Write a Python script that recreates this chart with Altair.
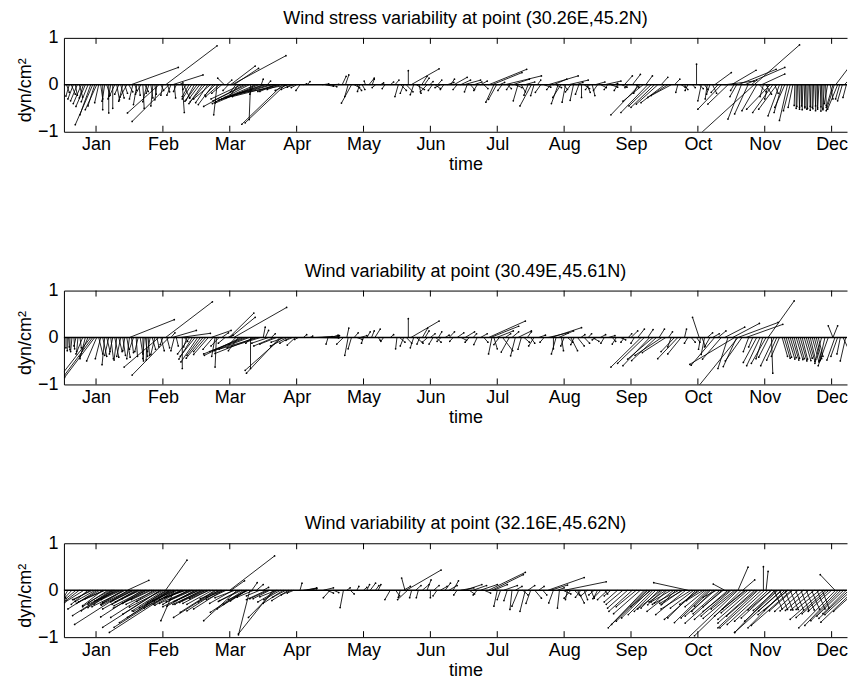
import json
import altair as alt
import pandas as pd

# ---------------- data ----------------
MONTHS = ["Jan", "Feb", "Mar", "Apr", "May", "Jun",
          "Jul", "Aug", "Sep", "Oct", "Nov", "Dec"]
MONTH_TICKS = [1, 2, 3, 4, 5, 6, 7, 8, 9, 10, 11, 12]
Y_TICKS = [-1, 0, 1]
TITLES = ["Wind stress variability at point (30.26E,45.2N)",
          "Wind variability at point (30.49E,45.61N)",
          "Wind variability at point (32.16E,45.62N)"]
X_TITLE = "time"
Y_TITLE = "dyn/cm\u00b2"

# panel 1: stick base time (month units), u (horizontal extent), v
t1 = [0.56,0.60,0.63,0.66,0.69,0.72,0.75,0.78,0.81,0.84,
      0.88,0.92,0.95,0.98,1.01,1.04,1.07,1.10,1.13,1.16,
      1.19,1.22,1.25,1.28,1.31,1.34,1.37,1.40,1.43,1.46,
      1.49,1.52,1.55,1.58,1.61,1.64,1.67,1.70,1.73,1.76,
      1.79,1.82,1.85,1.88,1.91,1.94,1.97,2.00,2.04,2.07,
      2.09,2.12,2.14,2.17,2.20,2.24,2.29,2.31,2.35,2.39,
      2.43,2.47,2.51,2.55,2.59,2.63,2.67,2.71,2.75,2.78,
      2.81,2.84,2.88,2.92,2.95,2.98,3.01,3.03,3.06,3.09,
      3.13,3.17,3.21,3.25,3.29,3.31,3.35,3.39,3.43,3.47,
      3.50,3.53,3.56,3.59,3.63,3.67,3.70,3.73,3.76,3.79,
      3.83,3.86,3.88,3.92,3.96,4.00,4.05,4.10,4.16,4.38,
      4.43,4.48,4.52,4.68,4.73,4.77,4.82,4.86,4.90,4.94,
      4.98,5.03,5.08,5.13,5.18,5.25,5.32,5.40,5.47,5.52,
      5.56,5.60,5.64,5.67,5.71,5.75,5.79,5.83,5.87,5.91,
      5.95,5.99,6.03,6.07,6.11,6.15,6.20,6.25,6.30,6.35,
      6.40,6.45,6.50,6.55,6.60,6.65,6.70,6.75,6.80,6.87,
      6.92,6.95,6.99,7.03,7.07,7.11,7.15,7.19,7.23,7.27,
      7.31,7.36,7.41,7.46,7.51,7.55,7.60,7.65,7.70,7.76,
      7.80,7.84,7.88,7.91,7.95,7.99,8.02,8.06,8.10,8.14,
      8.18,8.22,8.26,8.30,8.34,8.38,8.42,8.46,8.50,8.55,
      8.60,8.65,8.70,8.75,8.80,8.86,8.90,8.95,9.02,9.07,
      9.10,9.13,9.18,9.22,9.25,9.30,9.35,9.40,9.45,9.50,
      9.55,9.60,9.65,9.70,9.75,9.80,9.85,9.92,9.98,10.02,
      10.05,10.10,10.14,10.18,10.22,10.25,10.30,10.35,10.40,10.45,
      10.50,10.54,10.58,10.60,10.65,10.70,10.75,10.80,10.84,10.84,
      10.88,10.92,10.95,10.98,11.02,11.05,11.08,11.12,11.15,11.18,
      11.22,11.26,11.30,11.34,11.38,11.42,11.45,11.47,11.49,11.51,
      11.53,11.55,11.57,11.59,11.61,11.63,11.65,11.67,11.69,11.71,
      11.73,11.75,11.77,11.79,11.81,11.83,11.85,11.87,11.89,11.91,
      11.94,11.98,12.02,12.04,12.06,12.09,12.12,12.16,12.19,12.22]
u1 = [0.04,-0.05,0.06,-0.08,0.03,-0.10,0.05,-0.12,-0.06,-0.14,
      -0.10,-0.16,-0.26,-0.10,-0.17,-0.06,0.03,0.00,-0.04,0.05,
      0.00,-0.04,0.00,-0.08,0.04,-0.06,0.05,-0.06,0.04,-0.10,
      0.06,0.71,-0.05,0.03,-0.05,0.02,-0.08,0.02,0.05,-0.06,
      -0.04,0.03,-0.03,0.02,-0.03,-0.47,0.04,-0.03,0.77,0.03,
      -0.55,-0.06,0.46,0.02,-0.04,0.06,0.03,0.09,-0.05,-0.10,
      -0.14,-0.12,-0.18,-0.15,-0.20,-0.22,-0.18,-0.25,-0.22,-0.15,
      -0.05,-0.20,-0.15,-0.10,0.08,-0.08,0.37,0.81,0.37,-0.08,
      -0.12,-0.45,-0.60,-0.50,-0.55,-0.02,-0.05,-0.60,-0.65,0.03,
      -0.62,-0.69,0.05,-0.66,-0.69,-0.25,-0.25,-0.69,-0.20,-0.61,
      -0.60,-0.18,-0.74,-0.15,-0.10,-0.08,-0.06,0.05,0.04,0.10,
      0.12,0.15,0.08,0.06,0.05,-0.05,-0.15,0.08,0.07,-0.03,
      0.04,-0.02,0.08,0.03,-0.05,0.05,-0.04,0.05,0.06,-0.05,
      0.08,-0.05,0.10,0.00,0.42,-0.05,0.12,0.03,0.08,0.07,
      -0.10,0.05,-0.06,0.08,0.06,-0.08,-0.05,0.10,0.06,0.20,
      -0.06,0.15,0.25,-0.04,0.06,0.12,-0.05,0.10,0.06,0.57,
      0.45,-0.12,-0.12,0.08,-0.06,0.55,0.06,-0.05,0.25,0.10,
      -0.07,0.06,0.15,-0.06,-0.17,-0.05,0.05,-0.08,0.10,0.45,
      -0.06,0.20,0.08,-0.10,-0.12,0.06,-0.05,0.30,-0.08,-0.05,
      0.10,-0.05,0.00,0.08,0.05,-0.06,0.04,0.15,-0.06,0.08,
      0.25,-0.05,0.10,0.05,-0.05,0.08,0.12,-0.04,0.12,0.05,
      -0.06,-0.43,-0.30,0.10,-0.40,-0.33,-0.35,-0.32,0.10,-0.35,
      -0.30,-0.30,0.08,-0.03,0.06,0.05,-0.04,0.04,0.00,0.06,
      -0.05,0.05,-0.03,-0.05,0.06,0.25,-0.10,-0.35,0.44,-0.30,
      0.37,-0.05,-0.10,0.57,-0.20,0.60,-0.20,0.08,-0.81,0.68,
      -0.22,0.10,0.35,-0.05,0.08,-0.05,-0.35,-0.30,0.05,-0.27,
      -0.17,-0.12,-0.15,-0.12,-0.10,-0.07,-0.01,0.00,-0.01,0.01,
      -0.01,0.00,-0.01,0.01,-0.01,0.00,-0.01,0.01,-0.01,0.00,
      -0.01,0.01,-0.01,0.00,-0.02,0.01,-0.01,0.00,-0.02,0.01,
      -0.05,0.04,-0.10,-0.12,0.25,-0.15,-0.06,-0.07,0.10,-0.05]
v1 = [-0.16,-0.24,-0.20,-0.30,-0.22,-0.34,-0.26,-0.40,-0.28,-0.46,
      -0.36,-0.64,-0.85,-0.45,-0.53,-0.38,-0.30,-0.53,-0.35,-0.22,
      -0.60,-0.30,-0.50,-0.24,-0.32,-0.20,-0.28,-0.35,-0.18,-0.26,
      -0.15,0.37,-0.30,-0.12,-0.42,-0.22,-0.20,-0.50,-0.14,-0.36,
      -0.18,-0.28,-0.45,-0.20,-0.32,-0.60,-0.12,-0.22,0.83,-0.15,
      -0.78,-0.22,0.21,-0.28,-0.14,0.04,-0.59,-0.28,-0.10,-0.25,
      -0.30,-0.32,-0.35,-0.28,-0.40,-0.36,-0.38,-0.30,-0.42,-0.22,
      -0.64,-0.25,-0.18,0.14,0.10,-0.12,0.40,0.62,0.35,-0.15,
      -0.22,-0.30,-0.46,-0.34,-0.40,-0.74,-0.20,-0.36,-0.39,0.12,
      -0.30,-0.32,0.08,-0.27,-0.28,-0.14,-0.14,-0.25,-0.10,-0.84,
      -0.81,-0.12,-0.18,-0.10,-0.05,-0.06,-0.12,0.02,0.07,0.02,
      -0.03,0.01,-0.04,0.18,0.21,-0.25,-0.39,-0.06,-0.12,-0.14,
      -0.10,0.08,0.14,0.12,-0.06,0.04,-0.08,0.06,0.10,-0.25,
      -0.12,-0.18,-0.15,0.30,0.34,-0.21,-0.10,-0.18,0.18,0.14,
      -0.15,0.07,-0.12,-0.08,0.10,-0.06,-0.10,0.05,0.12,0.16,
      -0.10,0.10,0.10,-0.15,-0.10,0.06,-0.12,0.08,-0.08,0.33,
      0.26,-0.37,-0.31,0.05,-0.12,0.19,-0.08,-0.10,0.12,-0.06,
      -0.34,-0.15,0.06,-0.22,-0.45,-0.23,0.10,-0.16,-0.05,0.19,
      -0.10,0.12,-0.06,-0.40,-0.27,-0.10,-0.37,0.10,-0.15,-0.33,
      0.05,-0.20,-0.27,-0.08,-0.16,-0.10,-0.23,0.06,-0.12,-0.06,
      0.08,-0.10,-0.05,0.03,-0.12,-0.05,0.19,-0.06,0.22,-0.05,
      -0.18,-0.64,-0.35,0.19,-0.59,-0.45,-0.48,-0.41,0.16,-0.38,
      -0.27,-0.23,0.12,-0.16,-0.05,-0.10,-0.12,-0.06,0.44,-0.08,
      -0.34,-0.10,-0.30,-0.20,-0.18,0.26,-0.16,-0.52,0.08,-0.41,
      0.31,-0.12,-0.25,0.33,-0.73,0.37,-0.62,0.10,-1.05,0.85,
      -0.55,-0.15,0.23,-0.25,-0.20,-0.30,-0.52,-0.59,-0.18,-0.52,
      -0.66,-0.59,-0.48,-0.76,-0.55,-0.48,-0.44,-0.50,-0.46,-0.52,
      -0.48,-0.45,-0.53,-0.49,-0.47,-0.52,-0.50,-0.46,-0.54,-0.48,
      -0.51,-0.45,-0.55,-0.49,-0.52,-0.47,-0.56,-0.50,-0.53,-0.44,
      -0.40,-0.30,-0.48,-0.55,0.47,-0.52,-0.30,-0.34,0.15,-0.27]

# panel 2
t2 = [0.55,0.57,0.59,0.61,0.64,0.67,0.70,0.73,0.76,0.80,
      0.84,0.88,0.92,0.95,0.98,1.01,1.04,1.07,1.10,1.13,
      1.16,1.19,1.22,1.25,1.28,1.31,1.34,1.37,1.40,1.43,
      1.46,1.50,1.50,1.53,1.56,1.60,1.63,1.66,1.70,1.72,
      1.74,1.76,1.78,1.81,1.84,1.88,1.91,1.94,1.97,2.00,
      2.04,2.06,2.09,2.12,2.14,2.17,2.20,2.26,2.29,2.32,
      2.36,2.40,2.44,2.48,2.52,2.56,2.60,2.64,2.68,2.72,
      2.75,2.78,2.80,2.84,2.88,2.93,2.97,2.99,3.01,3.06,
      3.09,3.13,3.17,3.21,3.25,3.29,3.31,3.34,3.38,3.42,
      3.46,3.50,3.53,3.58,3.62,3.66,3.70,3.75,3.78,3.82,
      3.86,3.90,3.94,3.98,4.03,4.10,4.20,4.28,4.33,4.38,
      4.42,4.47,4.52,4.58,4.70,4.75,4.77,4.82,4.86,4.90,
      4.95,5.00,5.05,5.12,5.17,5.22,5.30,5.40,5.50,5.54,
      5.60,5.64,5.67,5.71,5.75,5.79,5.84,5.88,5.92,5.96,
      6.00,6.04,6.08,6.12,6.16,6.22,6.28,6.34,6.40,6.46,
      6.52,6.58,6.64,6.70,6.75,6.80,6.87,6.90,6.92,6.95,
      6.99,7.03,7.08,7.12,7.18,7.22,7.27,7.31,7.36,7.40,
      7.45,7.50,7.55,7.62,7.70,7.76,7.81,7.84,7.88,7.92,
      7.96,8.00,8.05,8.10,8.15,8.20,8.25,8.30,8.36,8.42,
      8.48,8.54,8.60,8.66,8.72,8.78,8.84,8.90,8.96,9.00,
      9.05,9.10,9.15,9.20,9.25,9.28,9.33,9.38,9.42,9.46,
      9.52,9.56,9.60,9.65,9.70,9.75,9.80,9.85,9.90,9.98,
      10.02,10.04,10.06,10.10,10.14,10.18,10.22,10.25,10.30,10.35,
      10.40,10.45,10.52,10.55,10.58,10.60,10.60,10.66,10.72,10.76,
      10.82,10.88,10.93,10.97,11.02,11.05,11.06,11.10,11.14,11.18,
      11.22,11.26,11.29,11.32,11.35,11.38,11.41,11.44,11.47,11.50,
      11.53,11.56,11.59,11.62,11.65,11.68,11.71,11.74,11.77,11.80,
      11.85,11.90,11.95,12.02,12.02,12.05,12.09,12.13,12.17,12.21]
u2 = [0.00,0.00,0.01,0.00,-0.02,0.01,-0.03,-0.02,0.02,-0.10,
      -0.08,-0.12,-0.40,-0.42,-0.45,-0.15,0.06,-0.08,0.06,-0.04,
      0.05,-0.06,0.04,-0.05,0.06,-0.04,0.05,-0.06,0.04,-0.03,
      0.05,0.67,-0.04,0.03,-0.06,0.02,-0.05,0.04,0.01,-0.02,
      0.03,-0.01,0.02,-0.04,0.05,-0.06,0.03,-0.52,0.05,-0.04,
      0.70,0.04,-0.55,0.06,0.36,-0.05,0.03,0.45,0.00,0.05,
      -0.05,-0.18,-0.20,-0.22,-0.25,-0.20,-0.25,-0.18,-0.22,0.30,
      -0.15,-0.05,-0.02,-0.12,0.10,-0.10,0.08,0.37,0.37,0.79,
      -0.10,-0.15,-0.55,-0.60,-0.55,-0.52,0.00,-0.10,-0.60,-0.58,
      -0.50,0.03,0.05,-0.25,0.06,-0.30,-0.25,-0.50,-0.55,-0.20,
      -0.25,-0.15,-0.10,-0.12,-0.06,0.05,0.04,0.25,0.30,0.25,
      0.20,-0.03,0.10,0.06,-0.10,0.03,-0.05,-0.05,0.06,0.08,
      0.10,-0.03,0.05,0.04,0.08,0.03,-0.04,0.05,-0.02,0.08,
      -0.05,0.08,0.00,0.42,-0.05,0.10,-0.04,0.08,0.06,-0.08,
      0.07,-0.06,0.08,0.05,-0.06,0.06,0.08,-0.05,0.10,0.08,
      0.14,-0.06,0.05,-0.05,0.10,0.06,0.55,0.42,-0.05,0.05,
      0.25,-0.08,0.15,0.08,-0.12,0.10,-0.07,0.20,-0.05,0.08,
      0.06,0.06,-0.08,0.10,-0.06,0.30,0.45,0.00,-0.07,0.22,
      0.03,-0.05,0.08,0.10,-0.05,0.10,0.06,0.08,0.05,0.10,
      -0.06,0.08,-0.05,0.10,0.05,-0.06,0.08,-0.05,0.05,0.10,
      -0.05,0.10,-0.45,-0.40,0.08,-0.40,-0.38,-0.37,0.08,-0.40,
      -0.35,0.06,-0.05,-0.20,-0.30,-0.20,0.03,-0.05,0.06,0.05,
      -0.10,-0.03,0.05,-0.05,0.08,-0.08,0.10,-0.35,0.12,-0.28,
      0.30,-0.15,0.40,-0.67,-0.20,-0.58,0.60,-0.25,0.55,-0.08,
      -0.06,-0.20,-0.20,-0.10,-0.22,0.39,-0.15,0.02,-0.20,-0.15,
      -0.12,0.08,0.09,0.08,0.10,0.09,0.10,0.08,0.10,0.09,
      0.10,0.08,0.10,0.09,0.10,0.08,0.10,0.09,0.08,0.07,
      -0.10,-0.08,-0.15,-0.07,0.07,-0.12,-0.10,-0.05,0.10,-0.08]
v2 = [-0.22,-0.28,-0.20,-0.26,-0.30,-0.24,-0.18,-0.30,-0.22,-0.35,
      -0.45,-0.40,-0.73,-0.80,-0.85,-0.50,-0.35,-0.45,-0.40,-0.58,
      -0.30,-0.38,-0.45,-0.35,-0.42,-0.48,-0.30,-0.40,-0.38,-0.28,
      -0.42,0.38,-0.45,-0.32,-0.25,-0.40,-0.30,-0.35,-0.50,-0.45,
      -0.40,-0.48,-0.38,-0.30,-0.25,-0.36,-0.20,-0.63,-0.28,-0.15,
      0.76,-0.22,-0.80,0.10,0.15,-0.28,-0.18,0.09,-0.66,-0.08,
      -0.20,-0.35,-0.46,-0.40,-0.52,-0.38,-0.44,-0.30,-0.36,0.15,
      -0.25,-0.40,-0.63,-0.18,0.10,-0.12,0.05,0.52,0.43,0.64,
      -0.15,-0.28,-0.38,-0.35,-0.30,-0.28,-0.66,-0.12,-0.34,-0.25,
      -0.22,0.22,0.15,-0.12,0.08,-0.18,-0.14,-0.76,-0.70,-0.10,
      -0.18,-0.12,-0.06,-0.16,-0.04,0.06,0.03,0.02,-0.01,0.03,
      0.00,-0.14,0.05,0.04,-0.14,0.20,-0.38,-0.24,0.10,-0.04,
      0.04,-0.12,0.12,0.14,0.18,-0.06,-0.08,0.06,-0.24,-0.10,
      -0.18,-0.12,0.40,0.35,-0.22,-0.12,-0.14,0.20,0.14,-0.10,
      0.08,-0.14,-0.10,0.12,-0.08,0.05,0.12,-0.08,0.10,-0.06,
      0.12,-0.10,0.08,-0.15,0.08,-0.10,0.35,0.24,-0.35,-0.24,
      0.14,-0.15,-0.28,0.08,-0.31,0.12,-0.39,0.14,-0.25,-0.10,
      0.12,-0.12,-0.18,0.05,-0.10,0.10,0.21,-0.24,-0.35,0.14,
      -0.28,-0.18,-0.10,-0.28,-0.15,-0.18,0.06,-0.12,0.08,-0.08,
      -0.05,0.06,-0.12,0.04,-0.08,-0.14,-0.05,-0.10,0.08,0.14,
      -0.12,0.18,-0.63,-0.55,0.17,-0.60,-0.46,-0.49,0.18,-0.38,
      -0.32,0.12,-0.20,-0.30,-0.45,-0.35,0.18,-0.12,-0.10,-0.10,
      0.43,-0.25,-0.18,-0.36,0.10,-0.20,0.08,-0.59,0.14,-0.46,
      0.22,-0.66,0.30,-0.57,-0.62,-1.02,0.32,-0.50,0.28,-0.30,
      -0.20,-0.53,-0.60,-0.45,-0.55,0.78,-0.42,-0.76,-0.60,-0.48,
      -0.40,-0.40,-0.44,-0.42,-0.46,-0.43,-0.48,-0.44,-0.47,-0.45,
      -0.50,-0.46,-0.49,-0.44,-0.51,-0.47,-0.52,-0.48,-0.45,-0.40,
      -0.55,-0.50,-0.60,0.25,0.25,-0.48,-0.40,-0.35,-0.30,-0.50]

# panel 3
t3 = [0.70,0.75,0.82,0.88,0.95,1.02,1.06,1.10,1.14,1.18,
      1.23,1.25,1.26,1.28,1.30,1.33,1.36,1.40,1.44,1.48,
      1.47,1.50,1.53,1.57,1.60,1.64,1.69,1.72,1.76,1.80,
      1.86,1.90,1.96,1.97,2.00,2.02,2.04,2.05,2.06,2.08,
      2.10,2.11,2.12,2.14,2.16,2.17,2.18,2.22,2.26,2.30,
      2.35,2.40,2.45,2.50,2.55,2.60,2.65,2.70,2.74,2.78,
      2.80,2.84,2.88,2.90,2.95,3.00,3.02,3.05,3.11,3.15,
      3.21,3.24,3.25,3.26,3.28,3.30,3.33,3.36,3.40,3.45,
      3.50,3.55,3.60,3.65,3.68,3.72,3.76,3.80,3.84,3.88,
      3.92,3.96,4.05,4.10,4.15,4.20,4.40,4.45,4.50,4.55,
      4.70,4.75,4.80,4.90,5.00,5.05,5.10,5.18,5.22,5.40,
      5.48,5.55,5.60,5.62,5.64,5.66,5.72,5.78,5.82,5.88,
      5.95,6.00,6.05,6.10,6.15,6.22,6.28,6.34,6.40,6.45,
      6.52,6.58,6.64,6.70,6.75,6.80,6.87,6.92,6.95,7.00,
      7.05,7.10,7.15,7.22,7.27,7.32,7.38,7.42,7.46,7.50,
      7.56,7.62,7.68,7.76,7.80,7.84,7.90,7.93,7.98,8.01,
      8.05,8.10,8.15,8.20,8.25,8.30,8.35,8.40,8.45,8.50,
      8.55,8.60,8.65,8.70,8.80,8.88,8.95,9.02,9.08,9.14,
      9.20,9.23,9.25,9.28,9.33,9.37,9.42,9.47,9.54,9.60,
      9.67,9.72,9.78,9.85,9.90,9.97,10.03,10.08,10.14,10.17,
      10.19,10.23,10.28,10.33,10.38,10.40,10.45,10.50,10.55,10.60,
      10.60,10.65,10.67,10.70,10.75,10.80,10.85,10.90,10.95,10.98,
      11.00,11.02,11.05,11.10,11.15,11.20,11.25,11.30,11.35,11.40,
      11.10,11.14,11.18,11.22,11.26,11.30,11.34,11.38,11.42,11.46,
      11.50,11.54,11.58,11.62,11.66,11.70,11.74,11.78,11.82,11.86,
      11.88,11.92,11.96,12.00,12.05,12.06,12.10,12.14,12.18,12.22,
      12.26,12.30,12.34,12.38]
u3 = [-0.15,-0.20,-0.29,-0.25,-0.30,-0.44,-0.35,-0.30,-0.40,-0.38,
      -0.25,-0.60,-0.48,-0.40,-0.33,-0.45,-0.35,-0.30,-0.50,-0.80,
      0.32,-0.40,-0.45,-0.35,-0.50,-0.40,-0.62,-0.45,-0.50,-0.40,
      -0.64,-0.45,-0.56,-0.87,-0.50,-0.48,0.32,-0.40,-0.29,-0.33,
      -0.75,-0.64,-0.25,-0.87,-0.60,-0.20,-0.98,-0.50,-0.40,-0.35,
      -0.30,-0.45,-0.40,-0.50,-0.35,-0.45,-0.40,-0.30,-0.38,-0.52,
      -0.64,-0.48,-0.35,-0.44,-0.30,0.67,0.20,-0.35,-0.50,-0.30,
      -0.50,-0.33,-0.44,-0.25,-0.30,-0.17,0.08,-0.25,0.10,-0.20,
      0.08,-0.30,-0.25,-0.52,-0.40,-0.30,-0.25,-0.30,-0.20,-0.25,
      -0.15,-0.10,0.03,0.20,0.15,0.10,0.15,0.10,-0.10,0.08,
      -0.05,0.05,0.06,0.03,0.05,0.04,0.08,0.05,0.04,-0.08,
      0.06,-0.03,0.10,-0.05,0.52,-0.15,-0.03,0.08,-0.03,0.10,
      0.06,0.00,0.08,-0.06,0.10,0.08,0.12,0.08,-0.05,0.20,
      0.25,0.08,0.20,-0.06,0.25,0.10,0.55,0.47,0.20,-0.05,
      -0.05,0.20,-0.05,-0.03,0.10,-0.10,0.08,-0.08,0.10,-0.07,
      0.10,0.08,0.06,0.54,0.25,-0.07,0.10,-0.03,0.12,0.62,
      -0.03,-0.10,0.08,0.10,-0.08,0.05,-0.10,0.05,-0.08,-0.05,
      -0.12,0.05,-0.15,-0.10,-0.20,-0.25,-0.30,-0.35,-0.30,-0.40,
      -0.54,-0.52,-0.47,-0.42,-0.37,-0.32,-0.27,-0.22,-0.19,-0.30,
      -0.22,-0.40,-0.35,-0.51,-0.45,-0.42,-0.30,-0.25,-0.49,-0.42,
      -0.24,-0.32,-0.20,-0.40,-0.30,-0.17,-0.50,-0.45,-0.35,-0.75,
      0.15,-0.70,0.18,-0.45,-0.40,-0.50,-0.55,-0.60,-0.62,0.00,
      -0.56,0.03,-0.50,-0.45,-0.60,-0.50,-0.70,-0.55,-0.45,-0.60,
      -0.35,0.12,-0.35,0.12,-0.35,0.12,-0.35,0.12,-0.35,0.12,
      -0.35,0.12,-0.35,0.12,-0.35,0.12,-0.35,0.12,-0.35,0.10,
      -0.50,-0.45,-0.40,-0.35,-0.22,-0.55,-0.50,-0.45,-0.40,-0.35,
      -0.45,-0.40,-0.50,-0.35]
v3 = [-0.18,-0.22,-0.26,-0.30,-0.20,-0.40,-0.28,-0.33,-0.25,-0.35,
      -0.23,-0.54,-0.44,-0.37,-0.30,-0.30,-0.22,-0.26,-0.35,-0.73,
      0.21,-0.28,-0.32,-0.25,-0.40,-0.30,-0.57,-0.33,-0.38,-0.28,
      -0.58,-0.30,-0.51,-0.79,-0.36,-0.44,0.64,-0.37,-0.26,-0.30,
      -0.69,-0.58,-0.23,-0.79,-0.45,-0.65,-0.90,-0.38,-0.30,-0.20,
      -0.15,-0.28,-0.25,-0.35,-0.22,-0.30,-0.26,-0.18,-0.30,-0.47,
      -0.58,-0.44,-0.25,-0.40,-0.20,0.73,0.20,-0.28,-0.65,-0.22,
      -0.47,-0.30,-0.40,-0.23,-0.20,-0.95,0.16,-0.15,0.12,-0.12,
      0.06,-0.20,-0.18,-0.93,-0.58,-0.25,-0.20,-0.28,-0.15,-0.22,
      -0.10,-0.06,0.15,0.04,0.05,0.03,0.05,-0.06,-0.16,-0.05,
      -0.37,0.05,-0.08,0.08,0.06,0.12,0.15,0.10,0.12,-0.20,
      -0.12,-0.15,0.08,0.26,0.43,-0.20,-0.16,0.10,-0.16,0.12,
      0.22,-0.16,0.10,-0.12,0.08,0.15,0.10,0.20,-0.10,0.05,
      0.12,-0.08,0.10,-0.10,0.12,-0.06,0.38,0.33,0.12,-0.34,
      -0.20,0.10,-0.22,-0.41,0.08,-0.34,-0.10,-0.45,0.10,-0.28,
      -0.17,0.08,-0.10,0.27,0.11,-0.27,0.05,-0.38,-0.08,0.18,
      -0.20,-0.17,-0.10,-0.27,-0.15,-0.20,-0.12,-0.17,-0.10,-0.14,
      -0.18,-0.08,-0.20,-0.12,-0.25,-0.30,-0.38,-0.45,-0.35,-0.50,
      -0.80,-0.73,-0.66,-0.59,-0.52,-0.45,-0.38,-0.31,-0.27,-0.25,
      -0.31,-0.30,-0.28,0.16,-0.40,-0.59,-0.30,-0.22,-0.69,-0.59,
      -0.34,-0.45,-0.15,-0.50,-0.35,0.13,-0.62,-0.55,-0.40,-1.02,
      0.49,-0.97,0.22,-0.55,-0.48,-0.62,-0.70,-0.80,-0.80,0.50,
      -0.73,0.40,-0.66,-0.59,-0.90,-0.66,-0.90,-0.80,-0.52,-0.75,
      -0.42,-0.40,-0.43,-0.41,-0.44,-0.42,-0.43,-0.41,-0.44,-0.42,
      -0.45,-0.43,-0.44,-0.42,-0.43,-0.41,-0.42,-0.40,-0.41,-0.38,
      -0.62,-0.58,-0.50,-0.45,0.33,-0.80,-0.75,-0.65,-0.55,-0.50,
      -0.60,-0.52,-0.68,-0.45]
# panel 3, extra sticks of the dense winter and autumn bands
t3b = [0.58,0.64,0.92,0.99,1.12,1.21,1.38,1.42,1.55,1.62,
       1.67,1.74,1.83,1.93,2.20,2.28,2.33,2.38,2.43,2.48,
       2.53,2.58,2.63,2.68,2.86,2.93,3.08,3.18,3.58,3.70,
       9.30,9.45,9.52,9.64,9.76,9.82,9.94,10.00,10.11,10.26,
       10.36,10.48,10.58,10.72,10.88]
u3b = [-0.05,-0.10,-0.25,-0.30,-0.28,-0.32,-0.30,-0.35,-0.30,-0.33,
       -0.28,-0.35,-0.30,-0.32,-0.35,-0.40,-0.30,-0.38,-0.33,-0.42,
       -0.36,-0.40,-0.34,-0.38,-0.30,-0.28,-0.30,-0.35,-0.28,-0.25,
       -0.30,-0.35,-0.25,-0.40,-0.30,-0.45,-0.35,-0.50,-0.30,-0.45,
       -0.55,-0.40,-0.50,-0.35,-0.45]
v3b = [-0.12,-0.15,-0.20,-0.24,-0.18,-0.26,-0.20,-0.30,-0.22,-0.25,
       -0.18,-0.28,-0.20,-0.24,-0.22,-0.32,-0.16,-0.30,-0.20,-0.34,
       -0.24,-0.30,-0.22,-0.28,-0.18,-0.15,-0.16,-0.24,-0.18,-0.14,
       -0.35,-0.40,-0.25,-0.45,-0.30,-0.52,-0.38,-0.62,-0.35,-0.55,
       -0.70,-0.45,-0.60,-0.40,-0.55]

PANELS = [(t1, u1, v1), (t2, u2, v2), (t3 + t3b, u3 + u3b, v3 + v3b)]

# ---------------- styling / layout ----------------
FONT = "Liberation Sans"
FS = 18
W, H = 784, 94
X_DOMAIN = [0.52, 12.23]
TICK_LEN = 6

month_expr = json.dumps(MONTHS) + "[round(datum.value) - 1]"
ylab_expr = "datum.value < 0 ? '\u2212' + format(-datum.value, 'd') : format(datum.value, 'd')"


def panel(t, u, v, title):
    n = min(len(t), len(u), len(v))
    df = pd.DataFrame({
        "t": t[:n],
        "tip": [a + b for a, b in zip(t[:n], u[:n])],
        "v": v[:n],
        "zero": [0.0] * n,
    })
    ticks_df = pd.DataFrame({"m": MONTH_TICKS})
    zero_df = pd.DataFrame({"z": [0.0]})

    xscale = alt.Scale(domain=X_DOMAIN, nice=False, zero=False)
    yscale = alt.Scale(domain=[-1, 1], nice=False, zero=False)

    xaxis = alt.Axis(values=MONTH_TICKS, labelExpr=month_expr, ticks=False,
                     grid=False, domainColor="black", domainWidth=1,
                     labelFont=FONT, labelFontSize=FS, labelColor="black",
                     labelPadding=4, labelFlush=False, title=X_TITLE,
                     titleFont=FONT, titleFontSize=FS, titleFontWeight="normal",
                     titleColor="black", titlePadding=2, titleX=W / 2 + 10)
    yaxis = alt.Axis(values=Y_TICKS, labelExpr=ylab_expr, ticks=False,
                     grid=False, domainColor="black", domainWidth=1,
                     labelFont=FONT, labelFontSize=FS, labelColor="black",
                     labelPadding=6, title=Y_TITLE, titleFont=FONT,
                     titleFontSize=FS, titleFontWeight="normal",
                     titleColor="black", titlePadding=3, titleY=H / 2 + 5)

    sticks = alt.Chart(df).mark_rule(color="black", strokeWidth=0.85, clip=True).encode(
        x=alt.X("t:Q", scale=xscale, axis=xaxis),
        x2="tip:Q",
        y=alt.Y("zero:Q", scale=yscale, axis=yaxis),
        y2="v:Q",
    )
    heads = alt.Chart(df).mark_point(filled=True, size=3, color="black",
                                      opacity=1, clip=True).encode(
        x=alt.X("tip:Q", axis=None),
        y=alt.Y("v:Q", axis=yaxis),
    )
    baseline = alt.Chart(zero_df).mark_rule(color="black", strokeWidth=1.4).encode(
        y=alt.Y("z:Q", axis=yaxis),
    )
    top_ticks = alt.Chart(ticks_df).mark_rule(color="black", strokeWidth=1).encode(
        x=alt.X("m:Q", scale=xscale,
                axis=alt.Axis(orient="top", labels=False, ticks=False, grid=False,
                              domainColor="black", domainWidth=1, title=None)),
        y=alt.value(0),
        y2=alt.value(TICK_LEN),
    )
    bottom_ticks = alt.Chart(ticks_df).mark_rule(color="black", strokeWidth=1).encode(
        x=alt.X("m:Q", axis=None),
        y=alt.value(H - TICK_LEN),
        y2=alt.value(H),
    )
    return alt.layer(sticks, heads, baseline, top_ticks, bottom_ticks).resolve_axis(
        x="independent"
    ).properties(
        width=W, height=H,
        title=alt.TitleParams(text=title, font=FONT, fontSize=FS,
                              fontWeight="normal", color="black",
                              offset=1, dx=10),
    )


chart = alt.vconcat(
    *[panel(t, u, v, ttl) for (t, u, v), ttl in zip(PANELS, TITLES)],
    spacing=89,
).properties(
    padding={"left": 8, "top": 1.5, "right": 0, "bottom": 0},
    background="white",
).configure_view(stroke=None)

chart.save("out.html", embed_options={"renderer": "svg", "actions": False})
